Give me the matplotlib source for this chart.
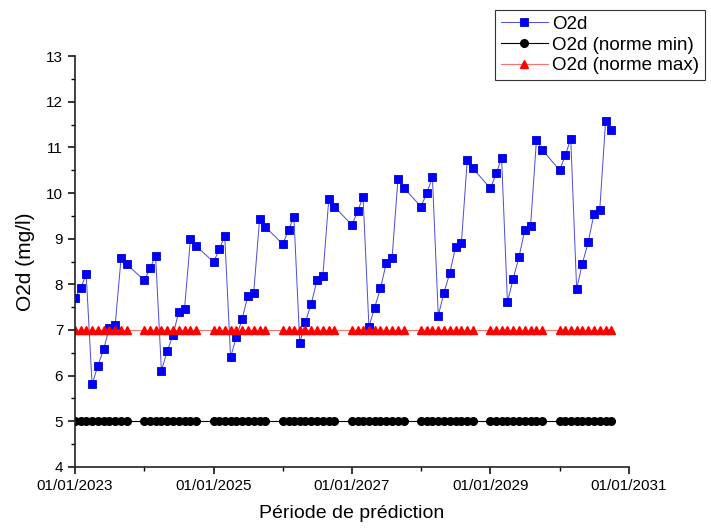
import datetime as dt
import matplotlib
matplotlib.use("Agg")
import matplotlib.pyplot as plt
import matplotlib.dates as mdates
from matplotlib.ticker import MultipleLocator

plt.rcParams['font.family'] = ['Liberation Sans', 'DejaVu Sans']

# Données : mesures mensuelles (janvier à octobre) de 2023 à 2030
years = [2023, 2024, 2025, 2026, 2027, 2028, 2029, 2030]
months = [1, 2, 3, 4, 5, 6, 7, 8, 9, 10]

o2d = [
    7.69, 7.93, 8.22, 5.81, 6.21, 6.58, 7.04, 7.11, 8.57, 8.44,
    8.09, 8.35, 8.63, 6.11, 6.53, 6.89, 7.39, 7.47, 8.99, 8.84,
    8.49, 8.77, 9.06, 6.40, 6.84, 7.24, 7.75, 7.82, 9.43, 9.26,
    8.88, 9.19, 9.48, 6.72, 7.18, 7.58, 8.09, 8.19, 9.86, 9.70,
    9.30, 9.60, 9.92, 7.07, 7.49, 7.91, 8.46, 8.57, 10.30, 10.12,
    9.70, 10.01, 10.34, 7.31, 7.82, 8.25, 8.81, 8.91, 10.73, 10.54,
    10.10, 10.43, 10.77, 7.61, 8.12, 8.60, 9.18, 9.28, 11.16, 10.95,
    10.50, 10.83, 11.19, 7.90, 8.45, 8.92, 9.53, 9.63, 11.58, 11.38,
]
norme_min = 5.0
norme_max = 7.0

tick_years = [2023, 2025, 2027, 2029, 2031]
minor_years = [2024, 2026, 2028, 2030]

dates = [dt.datetime(y, m, 1) for y in years for m in months]
o2d_min = [norme_min] * len(dates)
o2d_max = [norme_max] * len(dates)

fig = plt.figure(figsize=(7.11, 5.30), dpi=100)
ax = fig.add_axes([0.1055, 0.1189, 0.7788, 0.7754])

ax.plot(dates, o2d, color='#4a4ae0', lw=0.7, marker='s', ms=6,
        mfc='#0000ff', mec='#0000cc', mew=0.6, label='O2d')
ax.plot(dates, o2d_min, color='black', lw=0.8, marker='o', ms=5.5,
        mfc='black', mec='black', label='O2d (norme min)')
ax.plot(dates, o2d_max, color='#ff7070', lw=0.8, marker='^', ms=6,
        mfc='#ff0000', mec='#ff0000', label='O2d (norme max)')

ax.set_xlim(dt.datetime(2023, 1, 1), dt.datetime(2031, 1, 1))
ax.set_ylim(4, 13)
ax.set_xticks([mdates.date2num(dt.datetime(y, 1, 1)) for y in tick_years])
ax.set_xticks([mdates.date2num(dt.datetime(y, 1, 1)) for y in minor_years], minor=True)
ax.xaxis.set_major_formatter(mdates.DateFormatter('%d/%m/%Y'))
ax.yaxis.set_major_locator(MultipleLocator(1))
ax.yaxis.set_minor_locator(MultipleLocator(0.5))

for side in ['top', 'right']:
    ax.spines[side].set_visible(False)
for side in ['left', 'bottom']:
    ax.spines[side].set_linewidth(1.2)
    ax.spines[side].set_color('#222222')
ax.tick_params(which='major', direction='out', length=5, width=1.1, labelsize=11)
ax.tick_params(which='minor', direction='out', length=3, width=1.0)

ax.set_xlabel('Période de prédiction', fontsize=14, labelpad=9)
ax.set_ylabel('O2d (mg/l)', fontsize=15, labelpad=8)

leg = fig.legend(loc='upper left', bbox_to_anchor=(495 / 711, 1 - 10 / 530),
                 borderaxespad=0, fontsize=13.5, handlelength=2.5,
                 handletextpad=0.25, borderpad=0.3, labelspacing=0.2,
                 fancybox=False, edgecolor='#333333', framealpha=1)
leg.get_frame().set_linewidth(0.8)

fig.savefig('out.png', dpi=100)
